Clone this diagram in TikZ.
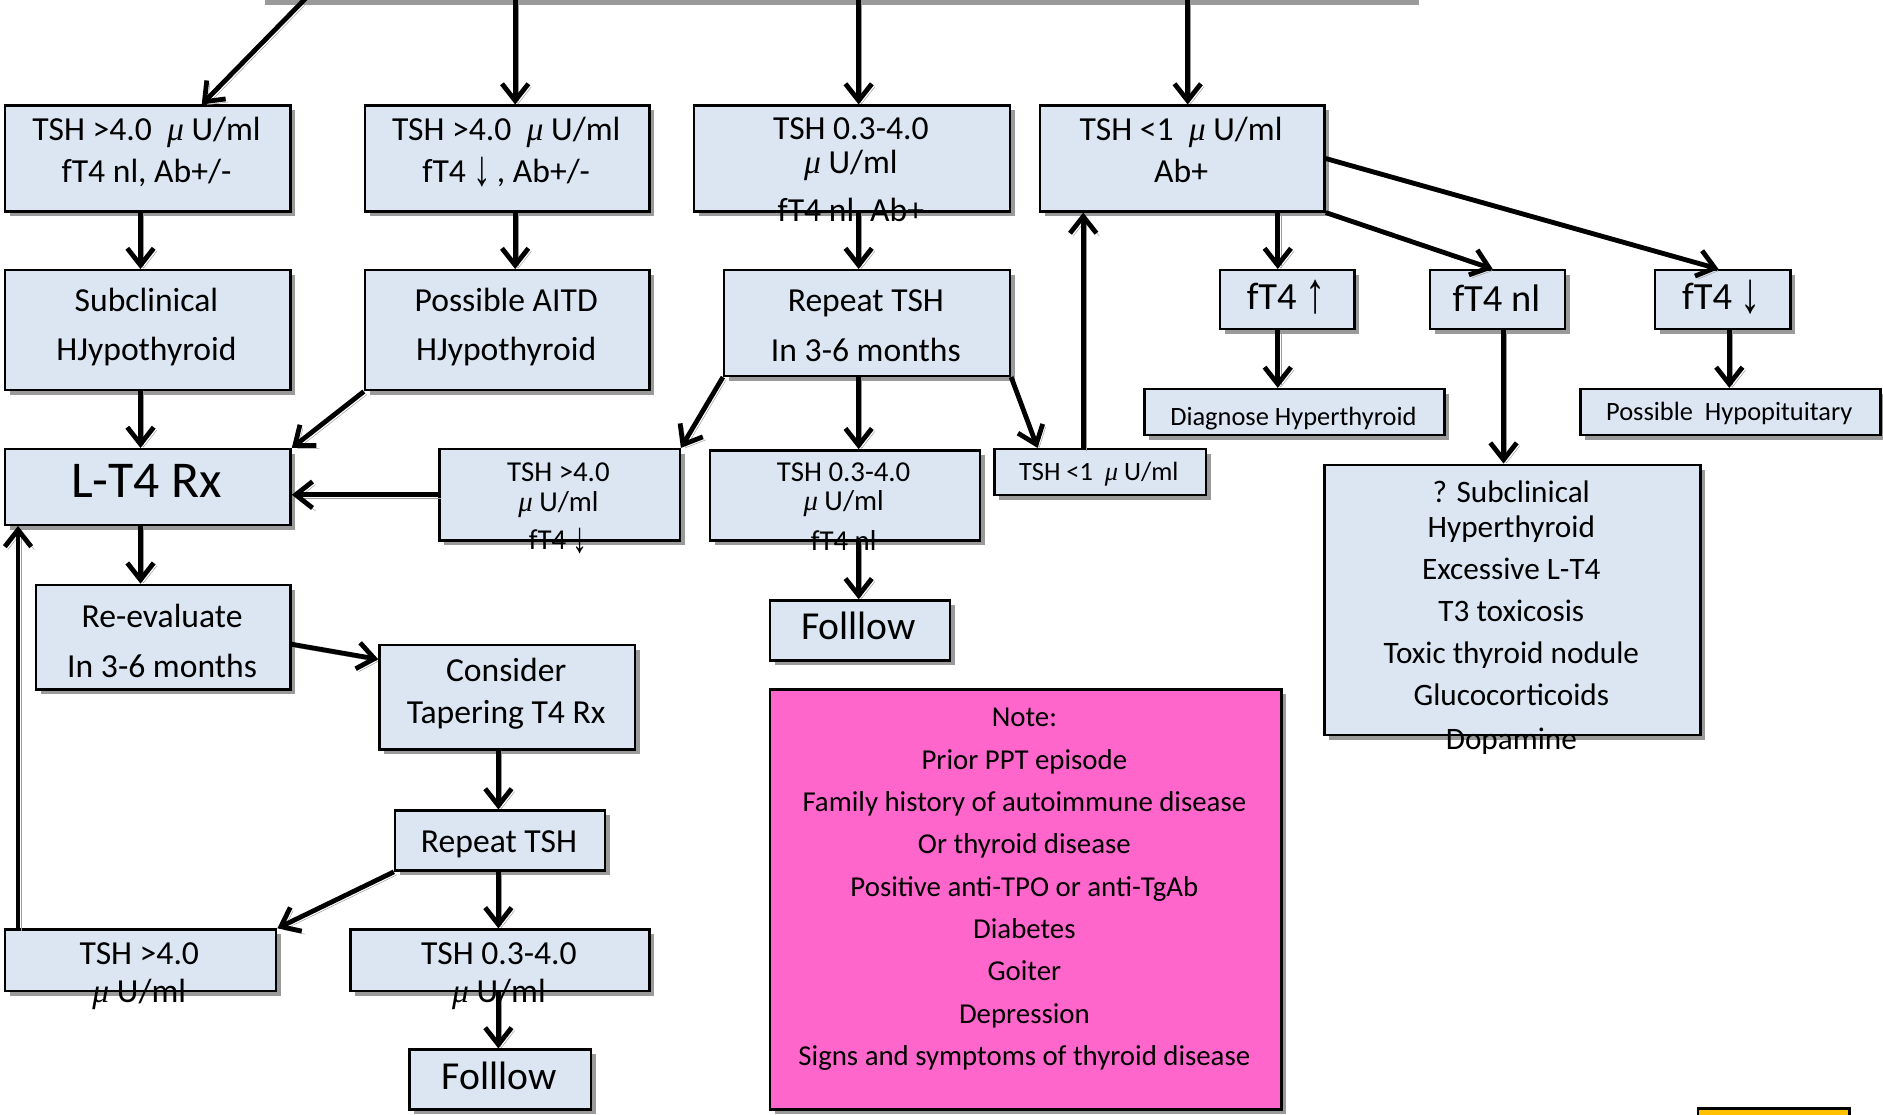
\documentclass[tikz,border=0pt]{standalone}
\usepackage{fontspec}
\usepackage{graphicx}
\setmainfont{Carlito}
\newfontfamily\symbfont{Liberation Serif}
\usetikzlibrary{arrows.meta,shadows}
\definecolor{boxfill}{HTML}{DCE6F2}
\definecolor{notepink}{HTML}{FF66CC}
\definecolor{shadowgray}{HTML}{9A9A9A}
\definecolor{tabyellow}{HTML}{FFC000}
\newcommand{\muml}{{\symbfont\itshape μ} U/ml}
\newcommand{\dnarr}{\raisebox{-0.08em}[0.66em][0.08em]{\scalebox{1.05}[1.5]{\symbfont ↓}}}
\newcommand{\uparr}{\raisebox{-0.08em}[0.66em][0.08em]{\scalebox{1.05}[1.5]{\symbfont ↑}}}
\tikzset{
  box/.style={draw, line width=2pt, fill=boxfill, anchor=north west, inner sep=0pt,
    drop shadow={shadow xshift=4pt, shadow yshift=-4pt, fill=shadowgray, opacity=1}},
  fs/.style 2 args={align=center, inner sep=0pt, font=\fontsize{#1}{#2}\selectfont},
  arr/.style={line width=4pt, -{Straight Barb[length=14pt,width=22pt]},
    preaction={draw=shadowgray, transform canvas={shift={(2.5pt,-2.5pt)}}}}
}

\begin{document}
\begin{tikzpicture}[x=1pt,y=-1pt]
  \useasboundingbox (0,0) rectangle (1568,928);
  % shadow of the box above the crop, tab at the bottom
  \fill[shadowgray] (221,-6) rectangle (1182,4);
  \draw[line width=2pt, fill=tabyellow] (1414,923) rectangle (1540,960);
  % columns of the connectors
  \coordinate (ca) at (117,0); \coordinate (cl) at (15,0); \coordinate (cb) at (429,0);
  \coordinate (cc) at (715,0); \coordinate (cd) at (902,0); \coordinate (ce) at (989,0);
  \coordinate (cf) at (1064,0); \coordinate (cg) at (1252,0); \coordinate (ch) at (1440,0);
  \coordinate (ck) at (415,0); \coordinate (cm) at (168,0); \coordinate (cn) at (864,0);
  \coordinate (co) at (1243,0); \coordinate (cp) at (1431,0);
  \coordinate (src) at (263,-10);
  % first row
  \node[box, minimum width=238pt, minimum height=88pt] (hi1) at (3,87) {};
  \node[box, minimum width=237pt, minimum height=88pt] (hi2) at (303,87) {};
  \node[box, minimum width=263pt, minimum height=88pt] (mid) at (577,87) {};
  \node[box, minimum width=237pt, minimum height=88pt] (lo) at (865,87) {};
  % second row
  \node[box, minimum width=238pt, minimum height=100pt] (subhypo) at (3,224) {};
  \node[box, minimum width=237pt, minimum height=100pt] (aitd) at (303,224) {};
  \node[box, minimum width=238pt, minimum height=88pt] (rep1) at (602,224) {};
  \node[box, minimum width=112pt, minimum height=49pt] (fup) at (1015,224) {};
  \node[box, minimum width=112pt, minimum height=49pt] (fnl) at (1190,224) {};
  \node[box, minimum width=113pt, minimum height=49pt] (fdn) at (1377,224) {};
  \node[box, minimum width=250pt, minimum height=38pt] (dxhyper) at (952,323) {};
  \node[box, minimum width=250pt, minimum height=38pt] (hypopit) at (1315,323) {};
  % third row
  \node[box, minimum width=238pt, minimum height=63pt] (lt4) at (3,373) {};
  \node[box, minimum width=200pt, minimum height=76pt] (rhi) at (365,373) {};
  \node[box, minimum width=225pt, minimum height=75pt] (rmid) at (590,374) {};
  \node[box, minimum width=176pt, minimum height=38pt] (rlo) at (827,373) {};
  \node[box, minimum width=313pt, minimum height=225pt] (causes) at (1102,386) {};
  \node[box, minimum width=150pt, minimum height=50pt] (fol1) at (640,499) {};
  % follow-up on L-T4
  \node[box, minimum width=212pt, minimum height=87pt] (reeval) at (29,486) {};
  \node[box, minimum width=213pt, minimum height=87pt] (taper) at (315,536) {};
  \node[box, minimum width=175pt, minimum height=50pt] (rep2) at (328,674) {};
  \node[box, minimum width=226pt, minimum height=51pt] (thi) at (3,773) {};
  \node[box, minimum width=249pt, minimum height=51pt] (tmid) at (291,773) {};
  \node[box, minimum width=151pt, minimum height=50pt] (fol2) at (340,873) {};
  % note
  \node[box, fill=notepink, minimum width=426pt, minimum height=350pt] (note) at (640,573) {};
  % connectors
  \draw[arr] (src) -- (hi1.north -| cm);
  \draw[arr] (cb |- src) -- (hi2.north -| cb);
  \draw[arr] (cc |- src) -- (mid.north -| cc);
  \draw[arr] (ce |- src) -- (lo.north -| ce);
  \draw[arr] (hi1.south -| ca) -- (subhypo.north -| ca);
  \draw[arr] (hi2.south -| cb) -- (aitd.north -| cb);
  \draw[arr] (mid.south -| cc) -- (rep1.north -| cc);
  \draw[arr] (subhypo.south -| ca) -- (lt4.north -| ca);
  \draw[arr] (aitd.south west) -- (lt4.north east);
  \draw[arr] (rep1.south west) -- (rhi.north east);
  \draw[arr] (rep1.south -| cc) -- (rmid.north -| cc);
  \draw[arr] (rep1.south east) -- (rlo.north -| cn);
  \draw[arr] (rlo.north -| cd) -- (lo.south -| cd);
  \draw[arr] (lo.south -| cf) -- (fup.north -| cf);
  \draw[arr] (lo.south east) -- (fnl.north -| co);
  \draw[arr] (lo.east) -- (fdn.north -| cp);
  \draw[arr] (fup.south -| cf) -- (dxhyper.north -| cf);
  \draw[arr] (fnl.south -| cg) -- (causes.north -| cg);
  \draw[arr] (fdn.south -| ch) -- (hypopit.north -| ch);
  \draw[arr] (rhi.west) -- (rhi.west -| lt4.east);
  \draw[arr] (rmid.south -| cc) -- (fol1.north -| cc);
  \draw[arr] (lt4.south -| ca) -- (reeval.north -| ca);
  \draw[arr] ([yshift=-6pt]reeval.east) -- ([yshift=-13pt]taper.north west);
  \draw[arr] (taper.south -| ck) -- (rep2.north -| ck);
  \draw[arr] (rep2.south west) -- (thi.north east);
  \draw[arr] (rep2.south -| ck) -- (tmid.north -| ck);
  \draw[arr] (tmid.south -| ck) -- (fol2.north -| ck);
  \draw[arr] (thi.north -| cl) -- (lt4.south -| cl);
  % texts
  \node[fs={28}{35}] (hi1t) at (122,126.5) {TSH >4.0\ \ \muml\\fT4 nl, Ab+/-};
  \node[fs={28}{35}] (hi2t) at (421.5,126.5) {TSH >4.0\ \ \muml\\fT4 \dnarr\,, Ab+/-};
  \node[fs={28}{28}] (midt) at (708.5,143) {TSH 0.3-4.0\\\muml\\[12pt]fT4 nl, Ab+};
  \node[fs={28}{35}] (lot) at (983.5,124.7) {TSH <1\ \ \muml\\Ab+};
  \node[fs={28}{41}] (subhypot) at (122,272.5) {Subclinical\\HJypothyroid};
  \node[fs={28}{41}] (aitdt) at (421.5,272.5) {Possible AITD\\HJypothyroid};
  \node[fs={28}{42}] (rep1t) at (721,271) {Repeat TSH\\In 3-6 months};
  \node[fs={32}{38}] (fupt) at (1071,248) {fT4 \uparr};
  \node[fs={32}{38}] (fnlt) at (1246,248) {fT4 nl};
  \node[fs={32}{38}] (fdnt) at (1433.5,248) {fT4 \dnarr};
  \node[fs={22}{26}] (dxhypert) at (1077,348.5) {Diagnose Hyperthyroid};
  \node[fs={22}{26}] (hypopitt) at (1440,344.5) {Possible\ \ Hypopituitary};
  \node[fs={43}{50}] (lt4t) at (122,400.7) {L-T4 Rx};
  \node[fs={24}{25}] (rhit) at (465,422.5) {TSH >4.0\\\muml\\[7pt]fT4 \dnarr};
  \node[fs={24}{24}] (rmidt) at (702.5,421.8) {TSH 0.3-4.0\\\muml\\[9pt]fT4 nl};
  \node[fs={22}{26}] (rlot) at (915,394.5) {TSH <1\ \ \muml};
  \node[fs={26}{35}] (causest) at (1258.5,514.5) {? Subclinical\\[-6.5pt]Hyperthyroid\\Excessive L-T4\\T3 toxicosis\\Toxic thyroid nodule\\Glucocorticoids\\[2pt]Dopamine};
  \node[fs={33}{38}] (fol1t) at (715,521) {Folllow};
  \node[fs={28}{41.5}] (reevalt) at (135,533.4) {Re-evaluate\\In 3-6 months};
  \node[fs={28}{35}] (tapert) at (421.5,577.5) {Consider\\Tapering T4 Rx};
  \node[fs={28}{35}] (rep2t) at (415.5,703) {Repeat TSH};
  \node[fs={28}{32}] (thit) at (116,813) {TSH >4.0\\\muml};
  \node[fs={28}{32}] (tmidt) at (415.5,813) {TSH 0.3-4.0\\\muml};
  \node[fs={33}{38}] (fol2t) at (415.5,896) {Folllow};
  \node[fs={24}{35.25}] (notet) at (853,740.7) {Note:\\Prior PPT episode\\Family history of autoimmune disease\\Or thyroid disease\\Positive anti-TPO or anti-TgAb\\Diabetes\\Goiter\\Depression\\Signs and symptoms of thyroid disease};
\end{tikzpicture}
\end{document}
